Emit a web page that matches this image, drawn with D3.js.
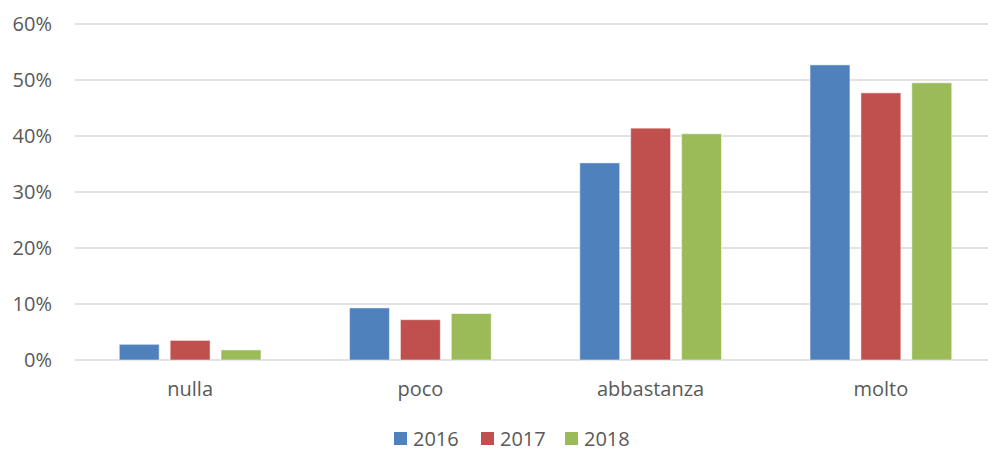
<!DOCTYPE html>
<html>
<head>
<meta charset="utf-8">
<script src="https://cdn.jsdelivr.net/npm/d3@7"></script>
<style>
  body { margin: 0; background: #fff; }
  text { font-family: "Open Sans", "Liberation Sans", sans-serif; fill: #595959; }
</style>
</head>
<body>
<div class="chart"></div>
<script>
// Categories, series and values
var categories = ["nulla", "poco", "abbastanza", "molto"];
var years = ["2016", "2017", "2018"];
var v2016 = [0.028, 0.093, 0.352, 0.527];
var v2017 = [0.035, 0.072, 0.414, 0.477];
var v2018 = [0.018, 0.083, 0.404, 0.495];
var yTicks = [0, 0.1, 0.2, 0.3, 0.4, 0.5, 0.6];
var colors = ["#4F81BD", "#C0504D", "#9BBB59"];

var svgWidth = 988;
var svgHeight = 452;
var margin = { top: 24, right: 0, bottom: 92, left: 75 };
var width = svgWidth - margin.left - margin.right;
var height = svgHeight - margin.top - margin.bottom;
// the original plot area runs a little past the right edge of the picture
var plotWidth = 921;

var svg = d3.select(".chart")
  .append("svg")
  .attr("width", svgWidth)
  .attr("height", svgHeight);

var chartGroup = svg.append("g")
  .attr("transform", `translate(${margin.left}, ${margin.top})`);

var series = [v2016, v2017, v2018];

var x0 = d3.scaleBand()
  .domain(categories)
  .range([0, plotWidth]);

var x1 = d3.scaleBand()
  .domain(years)
  .range([0, x0.bandwidth()])
  .paddingInner(0.216)
  .paddingOuter(0.87);

var y = d3.scaleLinear()
  .domain([0, 0.6])
  .range([height, 0]);

// gridlines
chartGroup.append("g")
  .selectAll("line")
  .data(yTicks)
  .enter()
  .append("line")
  .attr("x1", 0)
  .attr("x2", width)
  .attr("y1", d => y(d))
  .attr("y2", d => y(d))
  .attr("stroke", "#d9d9d9")
  .attr("stroke-width", 1.3);

// y tick labels
chartGroup.append("g")
  .selectAll("text")
  .data(yTicks)
  .enter()
  .append("text")
  .attr("x", -23)
  .attr("y", d => y(d))
  .attr("dy", "0.35em")
  .attr("text-anchor", "end")
  .style("font-size", "20px")
  .text(d => d3.format(".0%")(d));

// bars
var groups = chartGroup.selectAll(".cat")
  .data(categories)
  .enter()
  .append("g")
  .attr("class", "cat")
  .attr("transform", d => `translate(${x0(d)}, 0)`);

groups.selectAll("rect")
  .data((d, i) => years.map((yr, j) => ({ year: yr, value: series[j][i], idx: j })))
  .enter()
  .append("rect")
  .attr("x", d => x1(d.year))
  .attr("width", x1.bandwidth())
  .attr("y", d => y(d.value))
  .attr("height", d => height - y(d.value))
  .attr("fill", d => colors[d.idx])
  .attr("stroke", "#ffffff")
  .attr("stroke-opacity", 0.5)
  .attr("stroke-width", 1);

// category labels
chartGroup.append("g")
  .selectAll("text")
  .data(categories)
  .enter()
  .append("text")
  .attr("x", d => x0(d) + x0.bandwidth() / 2)
  .attr("y", height + 36)
  .attr("text-anchor", "middle")
  .style("font-size", "20px")
  .text(d => d);

// legend
var legendX = [394, 481, 565];
var legend = svg.append("g")
  .selectAll("g")
  .data(years)
  .enter()
  .append("g")
  .attr("transform", (d, i) => `translate(${legendX[i]}, 432)`);

legend.append("rect")
  .attr("width", 13)
  .attr("height", 13)
  .attr("fill", (d, i) => colors[i]);

legend.append("text")
  .attr("x", 19)
  .attr("y", 6.5)
  .attr("dy", "0.35em")
  .style("font-size", "20px")
  .text(d => d);
</script>
</body>
</html>
